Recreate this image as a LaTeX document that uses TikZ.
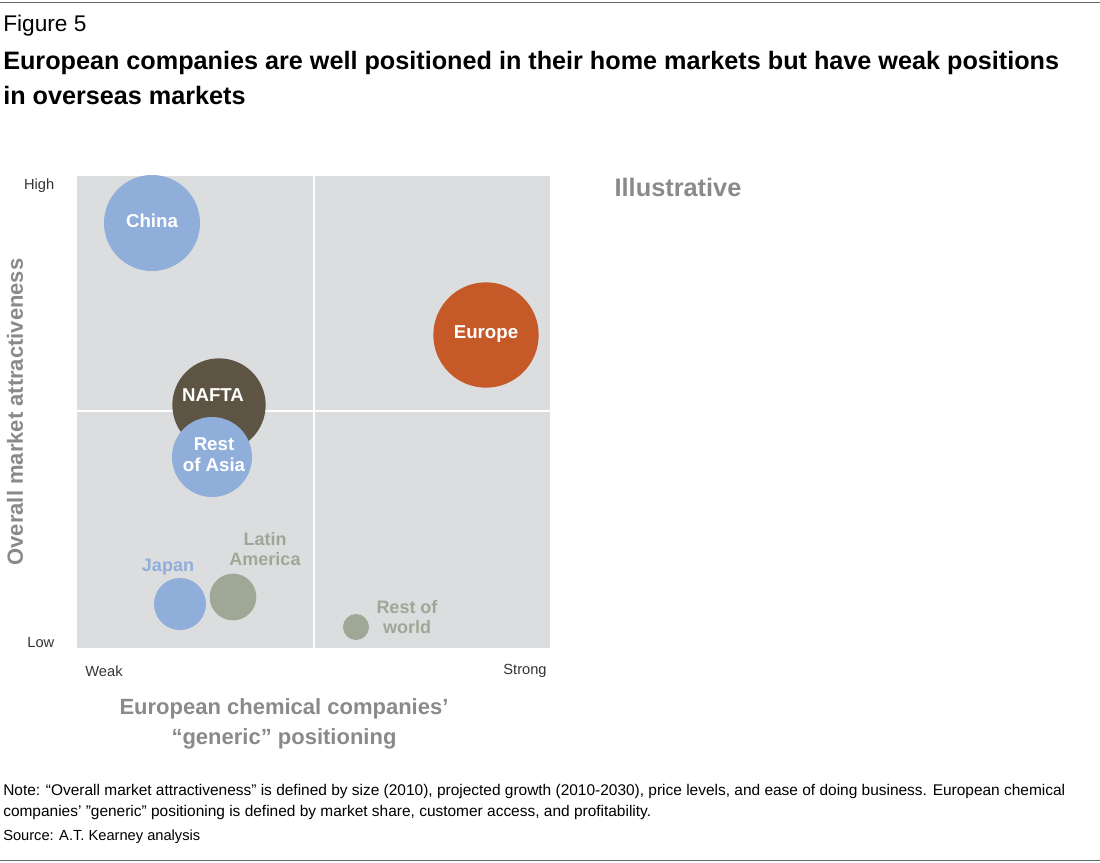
\documentclass[tikz,border=0pt]{standalone}
\usepackage{fontspec}
\setmainfont{Liberation Sans}
\definecolor{bl}{HTML}{8FAEDA}
\definecolor{orr}{HTML}{C55A28}
\definecolor{br}{HTML}{5E5443}
\definecolor{gg}{HTML}{9FA896}
\definecolor{bg}{HTML}{DCDDDE}
\definecolor{tg}{HTML}{8A8A8A}
\begin{document}
\begin{tikzpicture}[x=0.75pt,y=-0.75pt,
  bub/.style={circle,inner sep=0pt},
  lab/.style={font=\bfseries\fontsize{14}{15}\selectfont,align=center,text=white},
  glab/.style={font=\bfseries\fontsize{13.5}{15}\selectfont,align=center,text=gg},
  ax/.style={font=\fontsize{11}{13}\selectfont,text=black!80}]
\useasboundingbox (0,0) rectangle (1100,863);
\draw[black!60,line width=0.6pt] (0,2) -- (1100,2);
\draw[black!60,line width=0.6pt] (0,860) -- (1100,860);
\node[anchor=base west,inner sep=0,font=\fontsize{17}{18}\selectfont] (fig) at (3,32) {Figure 5};
\node[anchor=base west,inner sep=0,font=\bfseries\fontsize{18.9}{26.5}\selectfont,align=left] (title) at (3,105) {European companies are well positioned in their home markets but have weak positions\\in overseas markets};
\fill[bg] (77,176) rectangle (550,648);
\draw[white,line width=1pt] (314,176) -- (314,648);
\draw[white,line width=1pt] (77,411) -- (550,411);
\node[bub,fill=bl,minimum size=72] (china) at (152,223) {};
\node[lab] at (152,221) {China};
\node[bub,fill=orr,minimum size=79] (europe) at (486,335) {};
\node[lab] at (486,334) {Europe};
\node[bub,fill=br,minimum size=70] (nafta) at (219,405) {};
\node[lab] at (213,395) {NAFTA};
\node[bub,fill=bl,minimum size=60] (roa) at (212,457) {};
\node[lab,font=\bfseries\fontsize{14}{15.5}\selectfont] at (214,455) {Rest\\of Asia};
\node[bub,fill=bl,minimum size=39] (japan) at (180,604) {};
\node[glab,text=bl] at (168,567) {Japan};
\node[bub,fill=gg,minimum size=35] (latam) at (233,597) {};
\node[glab] at (265,549) {Latin\\America};
\node[bub,fill=gg,minimum size=19.5] (row) at (356,627) {};
\node[glab] at (407,617) {Rest of\\world};
\node[font=\bfseries\fontsize{19}{21}\selectfont,text=tg] (ill) at (678,187) {Illustrative};
\node[ax,anchor=east] (high) at (59,186) {High};
\node[ax,anchor=east] (low) at (59,643) {Low};
\node[ax] (weak) at (104,671) {Weak};
\node[ax] (strong) at (525,671) {Strong};
\node[font=\bfseries\fontsize{16.5}{18}\selectfont,text=tg,rotate=90] (yl) at (15,412) {Overall market attractiveness};
\node[font=\bfseries\fontsize{16.5}{22}\selectfont,text=tg,align=center] (xl) at (284,724) {European chemical companies'\\``generic'' positioning};
\node[anchor=base west,inner sep=0,font=\fontsize{11.6}{15.5}\selectfont,align=left] (note) at (3,816) {Note: ``Overall market attractiveness'' is defined by size (2010), projected growth (2010-2030), price levels, and ease of doing business. European chemical\\companies' "generic" positioning is defined by market share, customer access, and profitability.};
\node[anchor=base west,inner sep=0,font=\fontsize{11}{12}\selectfont] (src) at (3,840) {Source: A.T. Kearney analysis};
\end{tikzpicture}
\end{document}
